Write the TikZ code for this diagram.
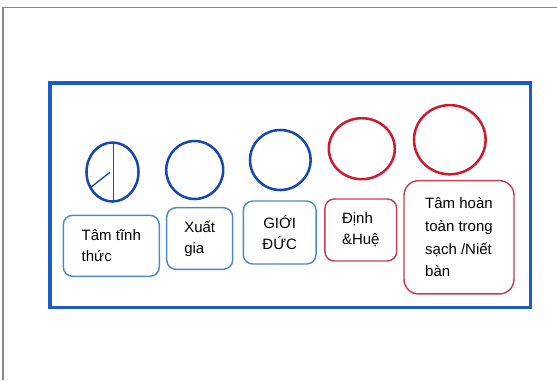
\documentclass[tikz,border=0pt]{standalone}
\usepackage{fontspec}
\setmainfont{Liberation Sans}

\definecolor{frameblue}{RGB}{28,92,200}
\definecolor{ringblue}{RGB}{22,72,180}
\definecolor{tagblue}{RGB}{78,138,200}
\definecolor{ringred}{RGB}{205,28,48}
\definecolor{tagred}{RGB}{196,64,76}

\tikzset{every picture/.style={line width=0.75pt}}
\tikzset{
  tag/.style={draw=tagblue, line width=1.1pt, rounded corners=7pt, inner sep=0pt,
    font=\fontsize{11.25}{15.5}\selectfont, align=left},
  redtag/.style={tag, draw=tagred},
  ring/.style={line width=1.9pt, draw=ringblue},
  redring/.style={ring, draw=ringred}
}

\begin{document}
\begin{tikzpicture}[x=0.75pt,y=0.75pt,yscale=-1,xscale=1]
\useasboundingbox[fill=white] (0,0) rectangle (557,380);

%Page edge
\draw [color={rgb, 255:red, 136; green, 136; blue, 136 }, line width=1pt] (3,380) -- (3,7.3) -- (557,7.3) ;

%Outer frame
\draw [draw=frameblue, line width=2.3pt] (50,83) rectangle (530.5,307.5) ;

%Circles
\draw [ring] (112.5,172) ellipse (26 and 29.5) ;
\draw [ring] (194.7,170) ellipse (28.5 and 29) ;
\draw [ring] (280.3,160) ellipse (30.3 and 30) ;
\draw [redring] (361.8,148.7) ellipse (33 and 30.5) ;
\draw [redring] (449.8,139.7) ellipse (35.8 and 34.6) ;

%Lines inside the first circle
\draw [draw=ringblue, line width=1.1pt] (113.3,142.5) -- (113.3,201.5) ;
\draw [draw=ringblue, line width=1pt] (90.5,187.5) -- (110,172.3) ;

%Labels
\node [tag, minimum width=72pt, minimum height=45.75pt] (tinhthuc) at (111.3,245.8) {Tâm tĩnh\\thức};
\node [tag, minimum width=49.5pt, minimum height=46.2pt] (xuatgia) at (199.7,238.5) {Xuất\\gia};
\node [tag, align=center, minimum width=54.5pt, minimum height=47.25pt] (gioiduc) at (279.7,232.5) {GIỚI\\ĐỨC};
\node [redtag, minimum width=53.8pt, minimum height=46.5pt] (dinhhue) at (360.8,230) {Định\\\&Huệ};
\node [redtag, rounded corners=11pt, font=\fontsize{11.25}{17}\selectfont, minimum width=82.5pt, minimum height=85pt] (niet) at (459,237.3) {Tâm hoàn\\toàn trong\\sạch /Niết\\bàn};

\end{tikzpicture}
\end{document}
